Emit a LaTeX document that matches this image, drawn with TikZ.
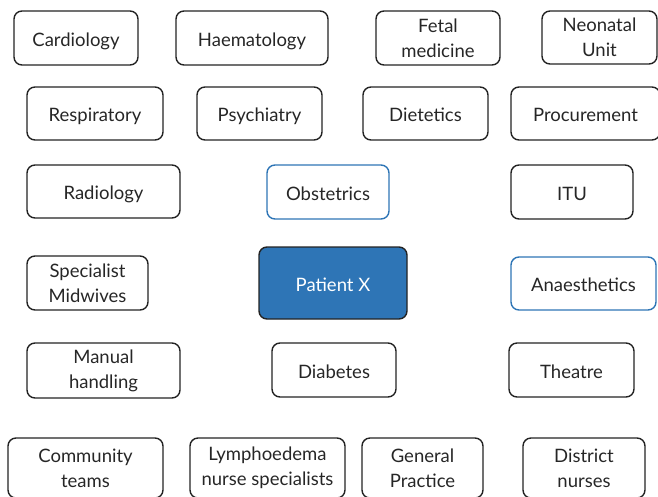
\documentclass[tikz,border=0pt]{standalone}
\usepackage{fontspec}
\setmainfont{Lato}
\usepackage{tikz}
\usetikzlibrary{positioning}

\definecolor{nhsblue}{RGB}{46,117,182}
\definecolor{edgegrey}{RGB}{35,35,35}

\begin{document}
\begin{tikzpicture}[x=1pt, y=-1pt,
        unit/.style={draw=edgegrey, line width=1.4pt, rounded corners=8pt, align=center,
            inner sep=0pt, text=black!85, font=\fontsize{18.5}{25}\selectfont},
        dims/.style 2 args={minimum width=#1pt, minimum height=#2pt},
        oneline/.style={text height=20pt, text depth=4pt},
        team/.style={unit, draw=nhsblue},
        patient/.style={unit, fill=nhsblue, text=white}]
        \useasboundingbox (0,0) rectangle (658,496);

        % first two rows
        \node[unit, oneline, dims={124}{54}] (cardio) at (76,38) {Cardiology};
        \node[unit, oneline, dims={152}{54}] (haem) at (252,38) {Haematology};
        \node[unit, dims={124}{54}] (fetal) at (438,38) {Fetal\\medicine};
        \node[unit, dims={115}{53}] (neonatal) at (599.5,37.5) {Neonatal\\Unit};
        \node[unit, oneline, dims={136}{53}] (resp) at (95,113.5) {Respiratory};
        \node[unit, oneline, dims={125}{53}] (psych) at (259.5,113.5) {Psychiatry};
        \node[unit, oneline, dims={125}{53}] (diet) at (425.5,113.5) {Dietetics};
        \node[unit, oneline, dims={149}{53}] (procure) at (585.5,113.5) {Procurement};

        % middle, around the patient
        \node[unit, oneline, dims={153}{53}] (radio) at (103.5,191.5) {Radiology};
        \node[team, oneline, dims={122}{54}] (obst) at (328,192) {Obstetrics};
        \node[unit, oneline, dims={122}{54}] (itu) at (572,192) {ITU};
        \node[unit, dims={121}{54}] (midw) at (87.5,283) {Specialist\\Midwives};
        \node[patient, oneline, dims={148}{72}] (px) at (333,283) {Patient X};
        \node[team, oneline, dims={145}{53}] (anaes) at (583.5,283.5) {Anaesthetics};
        \node[unit, dims={153}{55}] (manual) at (103.5,370.5) {Manual\\handling};
        \node[unit, oneline, dims={124}{54}] (diab) at (334,370) {Diabetes};
        \node[unit, oneline, dims={125}{54}] (theatre) at (571.5,370) {Theatre};

        % community side
        \node[unit, dims={155}{60}] (community) at (85.5,468) {Community\\teams};
        \node[unit, dims={155}{60}] (lymph) at (267.5,468) {Lymphoedema\\nurse specialists};
        \node[unit, dims={121}{60}] (gp) at (422.5,468) {General\\Practice};
        \node[unit, dims={122}{60}] (district) at (584,468) {District\\nurses};
    \end{tikzpicture}
\end{document}
